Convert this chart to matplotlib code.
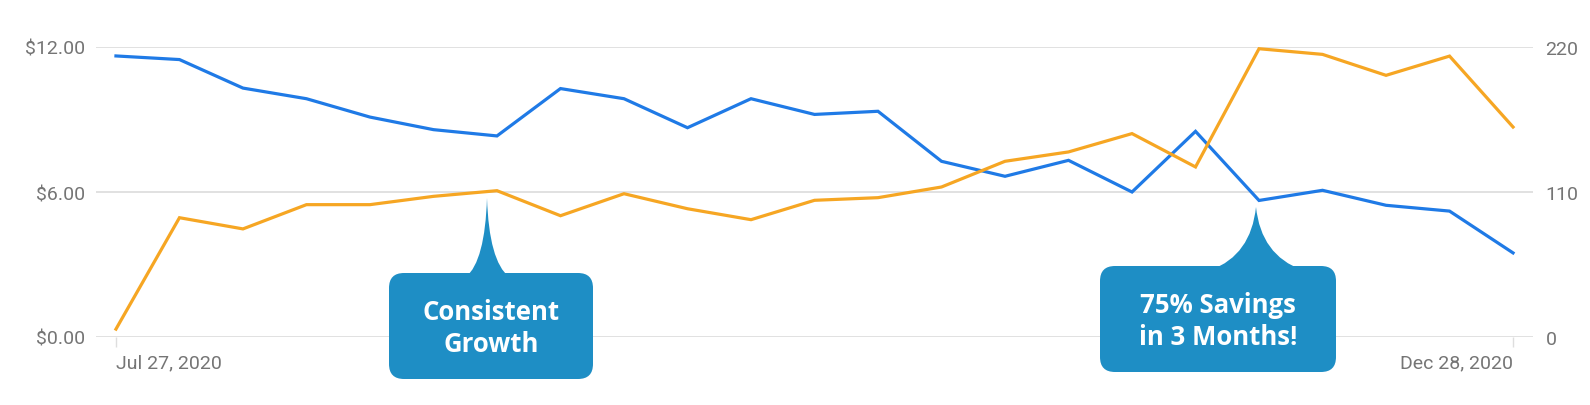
import matplotlib.pyplot as plt
import pandas as pd
from matplotlib.patches import FancyBboxPatch, PathPatch
from matplotlib.path import Path

dates = pd.date_range("2020-07-27", "2020-12-28", freq="7D")
cost = [11.63, 11.48, 10.30, 9.86, 9.10, 8.58, 8.32, 10.28, 9.86, 8.66, 9.86, 9.21,
        9.34, 7.27, 6.65, 7.31, 6.00, 8.51, 5.65, 6.07, 5.45, 5.21, 3.48]
volume = [6, 90.5, 82, 100.4, 100.4, 106.7, 111, 92, 108.7, 97.3, 89, 103.7,
          105.7, 113.8, 133.3, 140.4, 154.3, 129, 218.7, 214.4, 198.5, 213.1, 159.3]
left_ticks = [0, 6, 12]
left_labels = ["$0.00", "$6.00", "$12.00"]
right_ticks = [0, 110, 220]
x_labels = ["Jul 27, 2020", "Dec 28, 2020"]

blue = "#1f7ae6"
orange = "#f6a623"
callout = "#1e8ec5"
grey = "#757575"
grid = "#dedede"

plt.rcParams['font.family'] = ['Roboto', 'DejaVu Sans']

fig = plt.figure(figsize=(15.9, 4.06), dpi=100)
ax = fig.add_axes([96 / 1590, 68 / 406, 1437 / 1590, 290 / 406])
ax2 = ax.twinx()

ax.plot(dates, cost, color=blue, lw=2.3, solid_joinstyle='miter')
ax2.plot(dates, volume, color=orange, lw=2.3, solid_joinstyle='miter')

pad = pd.Timedelta(days=2.2)
ax.set_xlim(dates[0] - pad, dates[-1] + pad)
ax.set_ylim(0, 12)
ax2.set_ylim(0, 220)

ax.set_yticks(left_ticks)
ax.set_yticklabels(left_labels)
ax2.set_yticks(right_ticks)
ax.grid(axis='y', color=grid, lw=1.3)
ax.set_xticks([dates[0], dates[-1]])
ax.set_xticklabels(x_labels)
xt = ax.get_xticklabels()
xt[0].set_ha('left')
xt[1].set_ha('right')

for a in (ax, ax2):
    for s in a.spines.values():
        s.set_visible(False)
ax.tick_params(axis='y', length=0, pad=8, labelsize=14, labelcolor=grey)
ax2.tick_params(axis='y', length=0, pad=9, labelsize=14, labelcolor=grey)
ax.tick_params(axis='x', length=7, width=1, color=grid, pad=5, labelsize=14, labelcolor=grey)

# callouts drawn in pixel space on an overlay
ov = fig.add_axes([0, 0, 1, 1], zorder=5)
ov.set_xlim(0, 1590)
ov.set_ylim(406, 0)
ov.axis('off')


def bubble(x0, x1, y0, y1, bl, br, tip, cl, cr, lines, baselines):
    ov.add_patch(FancyBboxPatch((x0, y0), x1 - x0, y1 - y0,
                                boxstyle="round,pad=0,rounding_size=15",
                                fc=callout, ec='none'))
    verts = [(bl, y0 + 4), cl, tip, cr, (br, y0 + 4), (bl, y0 + 4)]
    codes = [Path.MOVETO, Path.CURVE3, Path.CURVE3, Path.CURVE3, Path.CURVE3, Path.CLOSEPOLY]
    ov.add_patch(PathPatch(Path(verts, codes), fc=callout, ec='none'))
    cx = (x0 + x1) / 2
    for t, b in zip(lines, baselines):
        ov.text(cx, b, t, ha='center', va='baseline', color='white',
                fontsize=18.5, fontweight='bold', family=['Open Sans', 'DejaVu Sans'])


bubble(389, 593, 274, 380, 466, 509, (487, 199), (485, 262), (489, 262),
       ["Consistent", "Growth"], [320, 352])
bubble(1100, 1336, 267, 373, 1211, 1302, (1256, 208), (1251, 256), (1261, 256),
       ["75% Savings", "in 3 Months!"], [313, 345])

fig.savefig("out.png", dpi=100)
